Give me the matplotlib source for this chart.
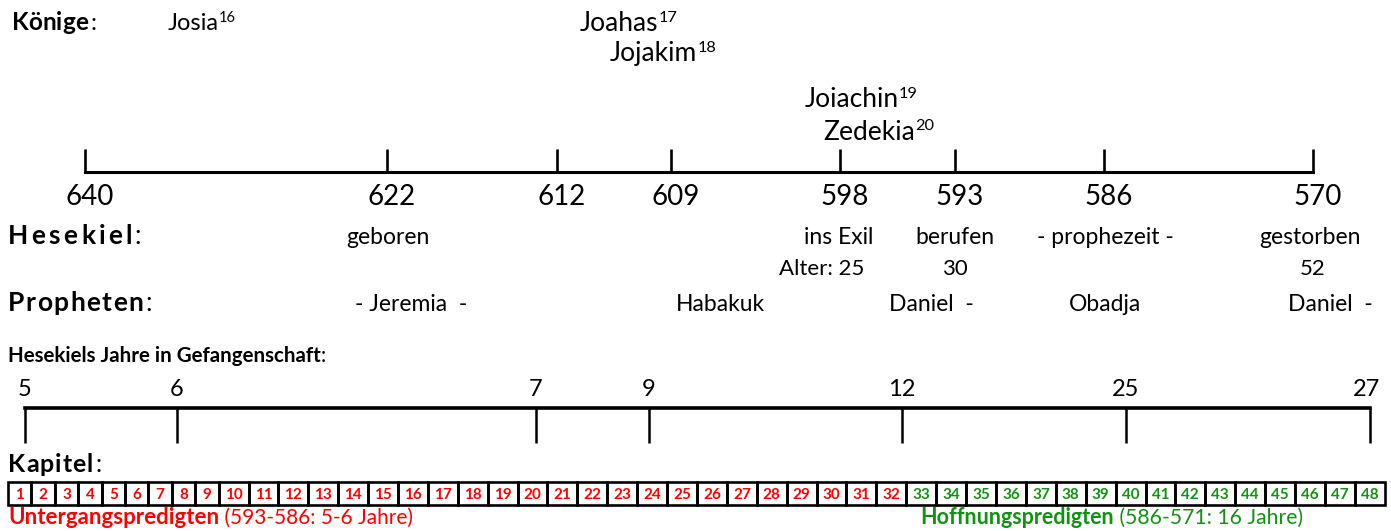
import matplotlib.pyplot as plt

plt.rcParams['font.family'] = ['Lato', 'DejaVu Sans']

# --- data ---
years = ['640', '622', '612', '609', '598', '593', '586', '570']
kings = ['Josia', 'Joahas', 'Jojakim', 'Joiachin', 'Zedekia']
king_refs = ['16', '17', '18', '19', '20']
hesekiel_events = ['geboren', 'ins Exil', 'berufen', '- prophezeit -', 'gestorben']
hesekiel_age = ['Alter: 25', '30', '52']
prophets = ['- Jeremia  -', 'Habakuk', 'Daniel  -', 'Obadja', 'Daniel  -']
captivity = ['5', '6', '7', '9', '12', '25', '27']
chapters = list(range(1, 49))
last_doom_chapter = 32

# --- layout (pixel positions of the hand drawn diagram) ---
year_x = [85, 387, 557, 671, 840, 955, 1104, 1313]
king_pos = [(168, 30, 17), (580, 31, 19), (610, 61, 19), (805, 107, 19), (823, 140, 19)]
event_x = [388, 839, 955, 1105, 1310]
age_x = [822, 955, 1313]
prophet_x = [411, 720, 931, 1105, 1330]
capt_x = [25, 177, 536, 649, 902, 1126, 1370]

RED = '#ff0000'
GREEN = '#129212'

fig = plt.figure(figsize=(13.91, 5.31), dpi=100)
ax = fig.add_axes([0, 0, 1, 1])
ax.set_xlim(0, 1391)
ax.set_ylim(531, 0)
ax.axis('off')
renderer = fig.canvas.get_renderer()


def put(x, y, parts, ha='left'):
    """parts: (text, size, bold, color, rise) drawn one after another"""
    prev = None
    for text, size, bold, color, rise in parts:
        kw = dict(fontsize=size, fontweight='bold' if bold else 'normal',
                  color=color, va='baseline')
        if prev is None:
            prev = ax.text(x, y - rise, text, ha=ha, **kw)
        else:
            prev = ax.annotate(text, xy=(1, y - rise), xycoords=(prev, 'data'),
                               ha='left', **kw)
    return prev


def label(x, y, word, end, size=18):
    """bold word spread from x to end, then a plain colon"""
    chars = [ax.text(0, y, ch, fontsize=size, fontweight='bold', va='baseline')
             for ch in word]
    ws = [c.get_window_extent(renderer).width for c in chars]
    gap = (end - x - sum(ws)) / (len(word) - 1)
    pos = x
    for c, w in zip(chars, ws):
        c.set_x(pos)
        pos += w + gap
    ax.text(end + 2.5, y, ':', fontsize=size, va='baseline')


# Könige + Zeitleiste
label(12, 30, 'Könige', 88, 17.5)
for name, ref, (x, y, s) in zip(kings, king_refs, king_pos):
    put(x, y, [(name, s, False, 'black', 0), (ref, s * 0.62, False, 'black', s * 0.5)])

ax.plot([year_x[0], year_x[-1]], [172, 172], color='black', lw=2.2,
        solid_capstyle='projecting')
ax.vlines(year_x, 149, 172, color='black', lw=1.9)
for yr, x in zip(years, year_x):
    ax.text(x + 5, 205, yr, fontsize=20, ha='center', va='baseline')

# Hesekiel
label(8, 244, 'Hesekiel', 132, 19)
for ev, x in zip(hesekiel_events, event_x):
    ax.text(x, 244, ev, fontsize=16.5, ha='center', va='baseline')
for a, x in zip(hesekiel_age, age_x):
    ax.text(x, 275, a, fontsize=16, ha='center', va='baseline')

# Propheten
label(8, 311, 'Propheten', 143, 19)
for p, x in zip(prophets, prophet_x):
    ax.text(x, 311, p, fontsize=16.5, ha='center', va='baseline')

# Jahre in Gefangenschaft
put(8, 362, [('Hesekiels Jahre in Gefangenschaft', 14.8, True, 'black', 0),
             (':', 14.8, False, 'black', 0)])
ax.plot([capt_x[0], capt_x[-1]], [408, 408], color='black', lw=2.6,
        solid_capstyle='projecting')
ax.vlines(capt_x, 408, 443, color='black', lw=1.8)
for c, x in zip(captivity, capt_x):
    ax.text(x - 4 if x > 1300 else x, 396, c, fontsize=17, ha='center', va='baseline')

# Kapitel
label(8, 472, 'Kapitel', 93, 18)
widths = [16.9 + 6.5 * len(str(c)) for c in chapters]
lefts = []
pos = 8
for w in widths:
    lefts.append(pos)
    pos += w
ax.bar(lefts, 23.5, width=widths, bottom=481.5, align='edge', fill=False,
       edgecolor='black', linewidth=1.9)
for c, l, w in zip(chapters, lefts, widths):
    col = RED if c <= last_doom_chapter else GREEN
    ax.text(l + w / 2, 499, str(c), fontsize=11, fontweight='bold', color=col,
            ha='center', va='baseline')

put(8, 524, [('Untergangspredigten', 16, True, RED, 0),
             (' (593-586: 5-6 Jahre)', 15, False, RED, 0)])
put(920, 524, [('Hoffnungspredigten', 15.5, True, GREEN, 0),
               (' (586-571: 16 Jahre)', 15.2, False, GREEN, 0)])

fig.savefig('out.png', dpi=100)
